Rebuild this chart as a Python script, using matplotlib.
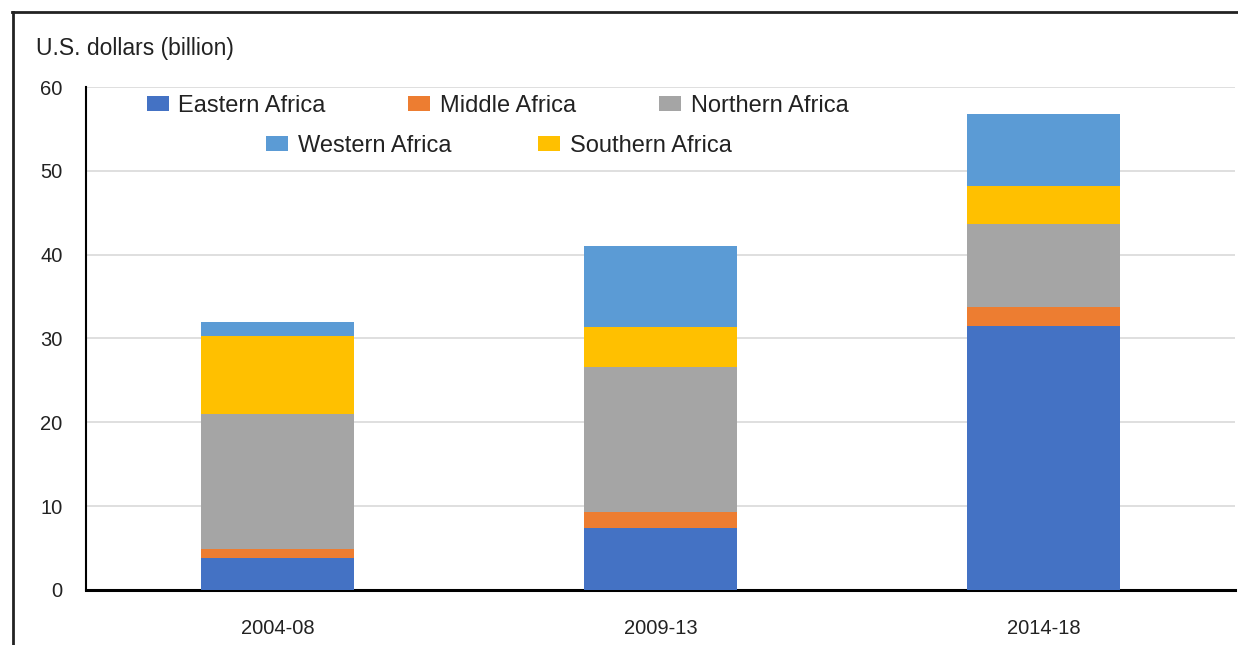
import matplotlib.pyplot as plt
from matplotlib.lines import Line2D
import numpy as np

periods = ["2004-08", "2009-13", "2014-18"]
eastern = [3.8, 7.4, 31.5]
middle = [1.1, 1.9, 2.3]
northern = [16.1, 17.3, 9.8]
southern = [9.3, 4.8, 4.6]
western = [1.7, 9.6, 8.6]

series = [
	("Eastern Africa", eastern, "#4472C4"),
	("Middle Africa", middle, "#ED7D31"),
	("Northern Africa", northern, "#A5A5A5"),
	("Southern Africa", southern, "#FFC000"),
	("Western Africa", western, "#5B9BD5"),
]

plt.rcParams['font.family'] = ['Liberation Sans', 'DejaVu Sans']
plt.rcParams['text.color'] = '#222222'
plt.rcParams['xtick.color'] = '#222222'
plt.rcParams['ytick.color'] = '#222222'

fig = plt.figure(figsize=(12.38, 6.45), dpi=100)
ax = fig.add_axes([0.0695, 0.0853, 0.928, 0.7798])

x = np.arange(len(periods))
bottom = np.zeros(len(periods))
handles = {}
for name, vals, color in series:
	b = ax.bar(x, vals, width=0.4, bottom=bottom, color=color, label=name, zorder=3)
	handles[name] = b
	bottom += np.array(vals)

ax.set_xlim(-0.5, 2.5)
ax.set_ylim(0, 60)
ax.set_yticks(range(0, 61, 10))
ax.set_xticks(x)
ax.set_xticklabels(periods)
ax.tick_params(axis='y', length=0, pad=17, labelsize=14.5)
ax.tick_params(axis='x', length=0, pad=21, labelsize=14.5)
ax.grid(axis='y', color='#D9D9D9', linewidth=1.2, zorder=0)
for s in ['top', 'right']:
	ax.spines[s].set_visible(False)
ax.spines['left'].set_linewidth(1.5)
ax.spines['bottom'].set_linewidth(2.2)

row1 = ["Eastern Africa", "Middle Africa", "Northern Africa"]
row2 = ["Western Africa", "Southern Africa"]
kw = dict(frameon=False, fontsize=17, handlelength=0.93, handleheight=0.6,
		  handletextpad=0.42, borderaxespad=0, borderpad=0, loc='center')
fig.legend([handles[n] for n in row1], row1, ncol=3, columnspacing=3.5,
		   bbox_to_anchor=(0.402, 0.836), **kw)
fig.legend([handles[n] for n in row2], row2, ncol=2, columnspacing=3.7,
		   bbox_to_anchor=(0.403, 0.774), **kw)

fig.text(36 / 1238, 1 - 48 / 645, "U.S. dollars (billion)", fontsize=16.5, va='center', ha='left')

# outer frame (top and left edges)
fig.add_artist(Line2D([12 / 1238, 1], [1 - 12 / 645, 1 - 12 / 645], color='#222222', linewidth=2))
fig.add_artist(Line2D([13 / 1238, 13 / 1238], [0, 1 - 12 / 645], color='#222222', linewidth=2))

fig.savefig("out.png", dpi=100)
